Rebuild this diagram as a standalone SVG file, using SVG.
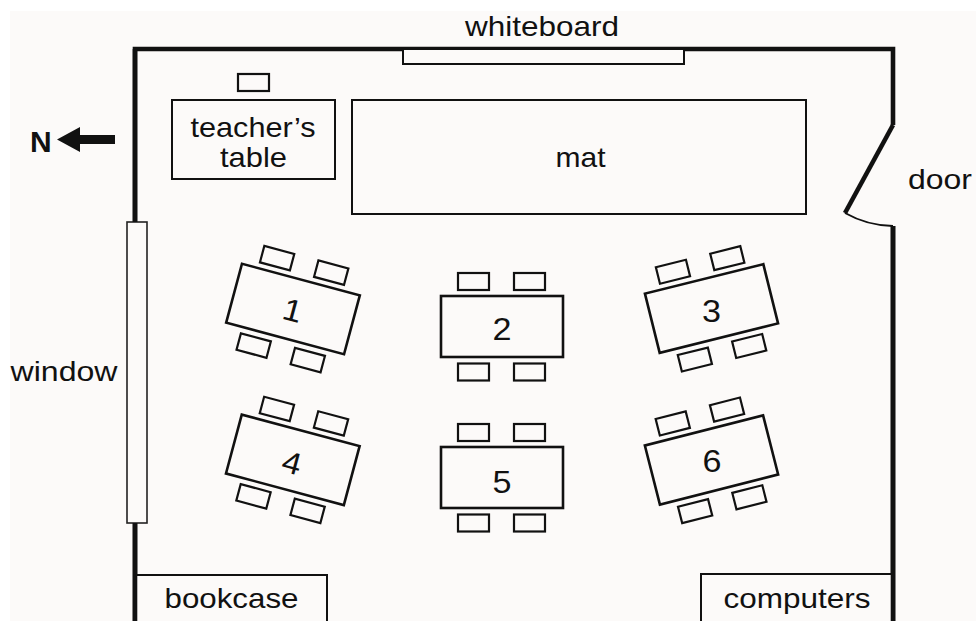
<svg xmlns="http://www.w3.org/2000/svg" xmlns:xlink="http://www.w3.org/1999/xlink" width="976" height="621" viewBox="0 0 976 621">
<style>
.lbl{font-family:"Liberation Sans",Arial,Helvetica,sans-serif;font-size:28px;fill:#111}
.num{font-family:"Liberation Sans",Arial,Helvetica,sans-serif;font-size:31px;fill:#111;text-anchor:middle}
.wall{fill:none;stroke:#111;stroke-width:4.6;stroke-linejoin:miter}
.thin{fill:#fcfaf9;stroke:#111;stroke-width:2}
.tbl{fill:#fcfaf9;stroke:#111;stroke-width:2.6}
.chair{fill:#fcfaf9;stroke:#111;stroke-width:2.2}
</style>
<defs>
<g id="desk">
<rect class="chair" x="-44" y="-53.5" width="31" height="17"/>
<rect class="chair" x="12" y="-53.5" width="31" height="17"/>
<rect class="chair" x="-44" y="37" width="31" height="17"/>
<rect class="chair" x="12" y="37" width="31" height="17"/>
<rect class="tbl" x="-61" y="-30.5" width="122" height="61"/>
</g>
</defs>
<rect x="0" y="0" width="976" height="621" fill="#ffffff"/>
<rect x="10" y="11" width="966" height="610" fill="#fcfaf9"/>

<g id="walls">
<path class="wall" d="M135,621 L135,49 L893,49 L893,125"/>
<path class="wall" d="M893,125 L845,213"/>
<path d="M845,213 A101,101 0 0,0 893,226" fill="none" stroke="#111" stroke-width="2"/>
<path class="wall" d="M893,226 L893,621"/>
</g>

<g id="whiteboard">
<rect class="thin" x="403" y="49" width="281" height="15"/>
<text class="lbl" x="465" y="36" textLength="154" lengthAdjust="spacingAndGlyphs">whiteboard</text>
</g>

<g id="window">
<rect x="127" y="222" width="20" height="301" fill="#fcfaf9" stroke="#222" stroke-width="1.6"/>
<text class="lbl" x="10.5" y="381" textLength="107" lengthAdjust="spacingAndGlyphs">window</text>
</g>

<g id="door-label">
<text class="lbl" x="908" y="189" textLength="64" lengthAdjust="spacingAndGlyphs">door</text>
</g>

<g id="north">
<text x="30" y="151.5" font-family="'Liberation Sans',Arial,Helvetica,sans-serif" font-size="30" font-weight="bold" fill="#111">N</text>
<path d="M57,139.5 L80,127 L80,135 L115,135 L115,144 L80,144 L80,152 Z" fill="#111"/>
</g>

<g id="teacher-table">
<rect class="chair" x="238" y="74" width="31" height="17"/>
<rect class="thin" x="172" y="100" width="163" height="79"/>
<text class="lbl" x="190.5" y="136.5" textLength="125" lengthAdjust="spacingAndGlyphs">teacher’s</text>
<text class="lbl" x="220" y="166.5" textLength="67" lengthAdjust="spacingAndGlyphs">table</text>
</g>

<g id="mat">
<rect class="thin" x="352" y="100" width="454" height="114"/>
<text class="lbl" x="555.5" y="167" textLength="50" lengthAdjust="spacingAndGlyphs">mat</text>
</g>

<g id="table1" transform="translate(293,309) rotate(15)">
<use xlink:href="#desk"/>
<text class="num" x="0" y="12" textLength="19" lengthAdjust="spacingAndGlyphs">1</text>
</g>

<g id="table2" transform="translate(502,326.5)">
<use xlink:href="#desk"/>
<text class="num" x="0" y="13.5" textLength="19" lengthAdjust="spacingAndGlyphs">2</text>
</g>

<g id="table3">
<use xlink:href="#desk" transform="translate(711.5,308.5) rotate(-14)"/>
<text class="num" x="711.5" y="322" textLength="19" lengthAdjust="spacingAndGlyphs">3</text>
</g>

<g id="table4" transform="translate(292.8,459.8) rotate(15)">
<use xlink:href="#desk"/>
<text class="num" x="0" y="14" textLength="19" lengthAdjust="spacingAndGlyphs">4</text>
</g>

<g id="table5" transform="translate(502,477.5)">
<use xlink:href="#desk"/>
<text class="num" x="0" y="15" textLength="19" lengthAdjust="spacingAndGlyphs">5</text>
</g>

<g id="table6">
<use xlink:href="#desk" transform="translate(711.5,460) rotate(-14.3)"/>
<text class="num" x="712" y="472" textLength="19" lengthAdjust="spacingAndGlyphs">6</text>
</g>

<g id="bookcase">
<rect class="thin" x="135" y="575" width="192" height="50"/>
<text class="lbl" x="164.5" y="607.5" textLength="134" lengthAdjust="spacingAndGlyphs">bookcase</text>
</g>

<g id="computers">
<rect class="thin" x="701" y="574" width="192" height="51"/>
<text class="lbl" x="723.5" y="608" textLength="147" lengthAdjust="spacingAndGlyphs">computers</text>
</g>

<g id="walls-over">
<path class="wall" d="M135,523 L135,621"/>
<path class="wall" d="M135,49 L135,222"/>
<path class="wall" d="M893,226 L893,621"/>
</g>
</svg>
